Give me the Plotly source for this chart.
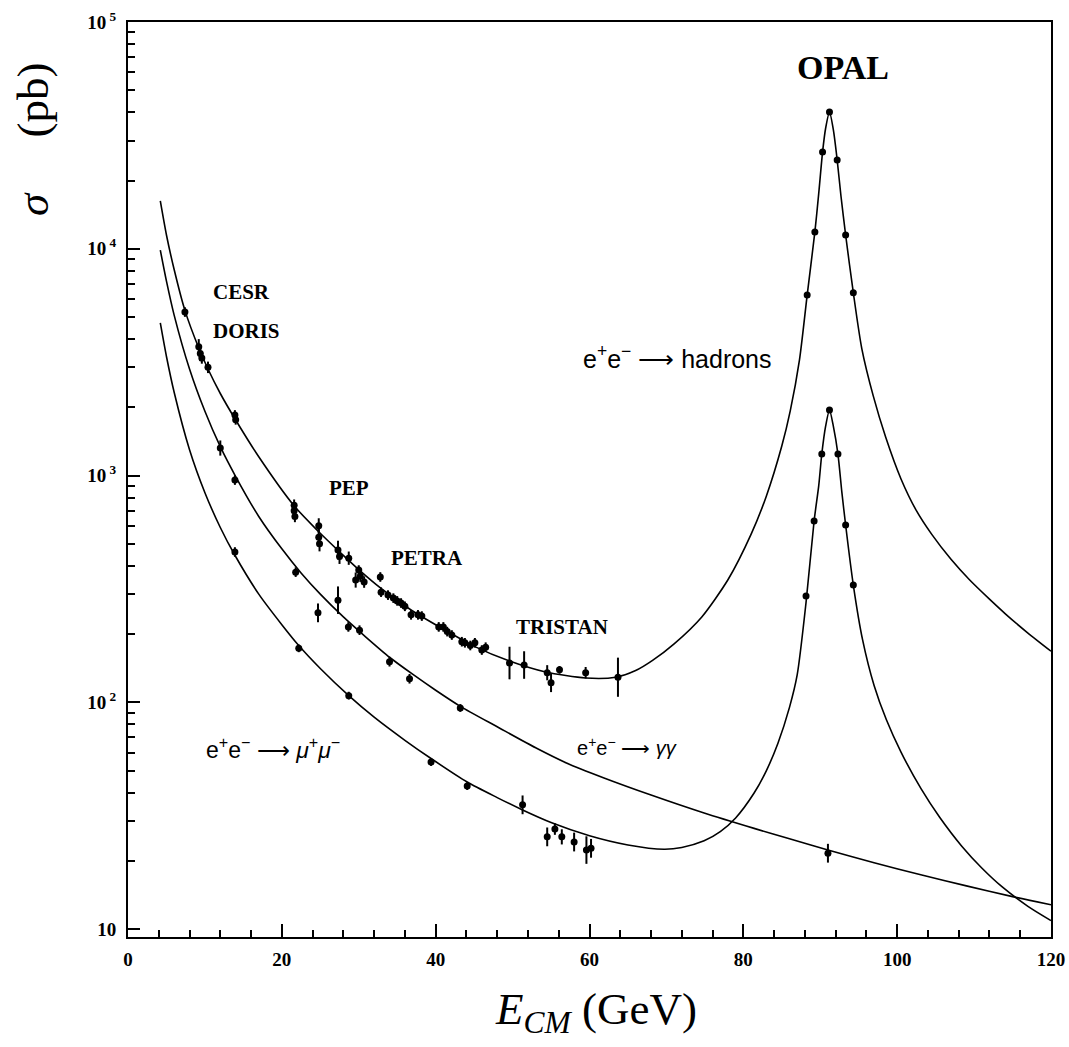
import plotly.graph_objects as go

# ---------------- data ----------------
# theory curves
had_curve_x = [4.2, 5, 6, 7.4, 9.2, 10.4, 12, 13.9, 17, 21.6, 24.8, 27.3, 30, 32.9, 36.9, 40.8, 45.1, 49.6,
               54.3, 59.5, 63.4, 66, 68.2, 71, 74.6, 78, 81, 83, 85, 86.1, 87.3, 88.3, 89.3, 89.8, 90.3, 90.7,
               91.2, 91.7, 92.2, 92.7, 93.3, 94.3, 95.4, 96.9, 98.5, 100.5, 102.5, 104.5, 107, 109.4, 112,
               114.1, 117, 120]
had_curve_y = [16250, 11500, 8100, 5350, 3650, 2950, 2300, 1780, 1210, 735, 565, 468, 385, 318, 254, 212,
               176, 152, 136, 128, 129, 138, 153, 181, 238, 347, 550, 813, 1349, 1928, 3236, 6250, 11860,
               17500, 26700, 34000, 40100, 33500, 24650, 17000, 11500, 6400, 3631, 2239, 1479, 966, 700, 550,
               427, 347, 285, 245, 202, 168]

gg_curve_x = [4.2, 5, 6, 8, 10, 12, 14, 17, 20, 22.5, 25, 28, 31, 34, 37, 40, 43.2, 48, 53, 57, 61.8, 68,
              74.9, 81.4, 86, 91, 97, 103.2, 109, 115, 120]
gg_curve_y = [9860, 7200, 5100, 2950, 1920, 1340, 990, 660, 475, 372, 300, 238, 193, 158, 133, 113, 96,
              78, 63, 54, 46.5, 39, 32.5, 27.8, 25, 22.3, 19.6, 17.3, 15.5, 13.9, 12.8]

mm_curve_x = [4.2, 5, 6, 8, 10, 12, 13.9, 17, 20, 22.2, 25, 28.7, 32, 36, 39.4, 44.1, 48, 51.3, 55, 60, 65,
              69.7, 72, 74.9, 77, 79, 81.4, 83, 84.5, 86, 87, 88.15, 89.2, 89.8, 90.2, 90.7, 91.2, 91.7, 92.3,
              92.8, 93.3, 94.3, 95.5, 97, 98.6, 100.5, 103.1, 105.5, 108.4, 111, 113.7, 117, 120]
mm_curve_y = [4710, 3350, 2330, 1300, 840, 590, 445, 300, 220, 178, 141, 107, 86, 68, 56.5, 44.5, 38, 33.5,
              29.5, 25.8, 23.5, 22.5, 22.9, 24.5, 26.9, 30.9, 39.8, 50, 66, 95, 132, 275, 630, 900, 1244,
              1650, 1945, 1650, 1244, 850, 605, 329, 189, 118.7, 83.7, 60.3, 41.6, 31.2, 23.2, 18.6, 15.3,
              12.6, 10.9]

# measurements (x, sigma, relative error)
had_pts_x = [7.4, 9.2, 9.4, 9.6, 10.4, 13.9, 14.0, 21.6, 21.6, 21.7, 24.8, 24.8, 24.9, 27.3, 27.5, 28.7,
             29.6, 30.0, 30.2, 30.7, 32.8, 32.9, 33.8, 34.5, 35.0, 35.5, 36.0, 36.8, 37.7, 38.2, 40.4, 41.0,
             41.5, 42.1, 43.4, 43.8, 44.5, 45.1, 46.0, 46.5, 49.6, 51.5, 54.5, 55.0, 56.1, 59.5, 63.7,
             88.3, 89.3, 90.3, 91.2, 92.2, 93.3, 94.3]
had_pts_y = [5260, 3700, 3450, 3300, 3000, 1850, 1760, 740, 700, 660, 600, 535, 500, 469, 440, 432,
             346, 383, 360, 339, 357, 306, 297, 288, 280, 274, 265, 243, 243, 240, 215, 215,
             205, 198, 185, 183, 178, 183, 170, 175, 149, 146, 135, 122, 139, 135, 129,
             6250, 11860, 26700, 40100, 24650, 11500, 6400]
had_pts_e = [0.05, 0.08, 0.08, 0.06, 0.06, 0.05, 0.05, 0.06, 0.06, 0.06, 0.08, 0.10, 0.08, 0.10, 0.08, 0.07,
             0.08, 0.05, 0.06, 0.06, 0.05, 0.05, 0.05, 0.05, 0.05, 0.05, 0.05, 0.05, 0.05, 0.05, 0.05, 0.05,
             0.05, 0.05, 0.05, 0.05, 0.05, 0.05, 0.05, 0.05, 0.18, 0.15, 0.08, 0.10, 0.04, 0.06, 0.22,
             0.02, 0.02, 0.02, 0.02, 0.02, 0.02, 0.02]

gg_pts_x = [12.0, 13.9, 21.8, 24.7, 27.3, 28.65, 30.1, 34.0, 36.6, 43.2, 91.0]
gg_pts_y = [1322, 955, 375, 248, 282, 215, 208, 151, 127, 94.4, 21.6]
gg_pts_e = [0.08, 0.05, 0.05, 0.10, 0.15, 0.05, 0.05, 0.05, 0.05, 0.04, 0.10]

mm_pts_x = [13.9, 22.2, 28.7, 39.4, 44.1, 51.3, 54.5, 55.5, 56.4, 58.0, 59.6, 60.2,
            88.15, 89.2, 90.2, 91.2, 92.3, 93.3, 94.3]
mm_pts_y = [460, 173, 107, 54.5, 42.7, 35.3, 25.5, 27.6, 25.5, 24.2, 22.3, 22.7,
            294, 630, 1244, 1945, 1244, 605, 329]
mm_pts_e = [0.05, 0.04, 0.04, 0.04, 0.04, 0.10, 0.10, 0.06, 0.08, 0.10, 0.15, 0.10,
            0.03, 0.03, 0.03, 0.03, 0.03, 0.03, 0.03]

x_ticks = [0, 20, 40, 60, 80, 100, 120]
x_minor = [v for v in range(4, 120, 4) if v % 20 != 0]
y_ticks = [10, 100, 1000, 10000, 100000]
y_ticktext = ["10", "10<sup> 2</sup>", "10<sup> 3</sup>", "10<sup> 4</sup>", "10<sup> 5</sup>"]
y_minor = [m * d for d in [10, 100, 1000, 10000] for m in range(2, 10)]

# ---------------- figure ----------------
fig = go.Figure()
line_style = dict(color="black", width=1.6, shape="spline", smoothing=0.7)
for cx, cy in [(had_curve_x, had_curve_y), (gg_curve_x, gg_curve_y), (mm_curve_x, mm_curve_y)]:
    fig.add_trace(go.Scatter(x=cx, y=cy, mode="lines", line=line_style, showlegend=False, hoverinfo="skip"))

for px, py, pe in [(had_pts_x, had_pts_y, had_pts_e), (gg_pts_x, gg_pts_y, gg_pts_e), (mm_pts_x, mm_pts_y, mm_pts_e)]:
    up = [y * e for y, e in zip(py, pe)]
    dn = [y * e / (1 + e) for y, e in zip(py, pe)]
    fig.add_trace(go.Scatter(
        x=px, y=py, mode="markers",
        marker=dict(color="black", size=7, symbol="circle"),
        error_y=dict(type="data", array=up, arrayminus=dn, color="black", thickness=2, width=0),
        showlegend=False))

serif = "Liberation Serif"
sans = "Liberation Sans"

fig.update_layout(
    width=1069, height=1047,
    margin=dict(l=128, r=18, t=22, b=110),
    paper_bgcolor="white", plot_bgcolor="white",
    xaxis=dict(range=[0, 120], tickmode="array", tickvals=x_ticks,
               ticktext=[str(v) for v in x_ticks], automargin=False,
               ticks="inside", ticklen=13, tickwidth=1.5, tickcolor="black",
               showline=True, linecolor="black", linewidth=2, mirror=True,
               showgrid=False, zeroline=False, ticklabelstandoff=4,
               tickfont=dict(family=serif, size=19, color="black", weight="bold"),
               minor=dict(tickmode="array", tickvals=x_minor, ticks="inside", ticklen=7,
                          tickwidth=1.5, tickcolor="black", showgrid=False)),
    yaxis=dict(type="log", range=[0.965, 5], tickmode="array", tickvals=y_ticks, ticktext=y_ticktext,
               automargin=False,
               ticks="inside", ticklen=12, tickwidth=1.5, tickcolor="black",
               showline=True, linecolor="black", linewidth=2, mirror=True,
               showgrid=False, zeroline=False, ticklabelstandoff=6,
               tickfont=dict(family=serif, size=19, color="black", weight="bold"),
               minor=dict(tickmode="array", tickvals=y_minor, ticks="inside", ticklen=7,
                          tickwidth=1.5, tickcolor="black", showgrid=False)),
)


def px_x(p):
    return (p - 128) / 923.0


def px_y(p):
    return (937 - p) / 915.0


annots = [
    ("OPAL", 843, 68, serif, 34, "bold"),
    ("CESR", 241, 292, serif, 21, "bold"),
    ("DORIS", 246, 331, serif, 21, "bold"),
    ("PEP", 349, 488, serif, 21, "bold"),
    ("PETRA", 427, 558, serif, 21, "bold"),
    ("TRISTAN", 562, 627, serif, 21, "bold"),
    ("e<sup>+</sup>e<sup>−</sup> ⟶ hadrons", 677, 357, sans, 25, "normal"),
    ("e<sup>+</sup>e<sup>−</sup> ⟶ <i>μ</i><sup>+</sup><i>μ</i><sup>−</sup>", 273, 748, sans, 23, "normal"),
    ("e<sup>+</sup>e<sup>−</sup> ⟶ <i>γγ</i>", 627, 746, sans, 20, "normal"),
]
for text, ax_, ay_, fam, sz, wt in annots:
    fig.add_annotation(x=px_x(ax_), y=px_y(ay_), xref="paper", yref="paper", text=text, showarrow=False,
                       xanchor="center", yanchor="middle",
                       font=dict(family=fam, size=sz, color="black", weight=wt))

# axis titles
fig.add_annotation(x=px_x(33), y=px_y(140), xref="paper", yref="paper",
                   text="<i>σ</i>&nbsp;&nbsp;&nbsp;&nbsp;&nbsp;(pb)", showarrow=False, textangle=-90,
                   xanchor="center", yanchor="middle", font=dict(family=serif, size=45, color="black"))
fig.add_annotation(x=px_x(596), y=px_y(1012), xref="paper", yref="paper",
                   text="<i>E</i><sub><i>CM</i></sub> (GeV)", showarrow=False,
                   xanchor="center", yanchor="middle", font=dict(family=serif, size=45, color="black"))

fig.write_html("out.html", config={"displayModeBar": False},
               post_script="document.body.style.margin='0';document.body.style.overflow='hidden';")
